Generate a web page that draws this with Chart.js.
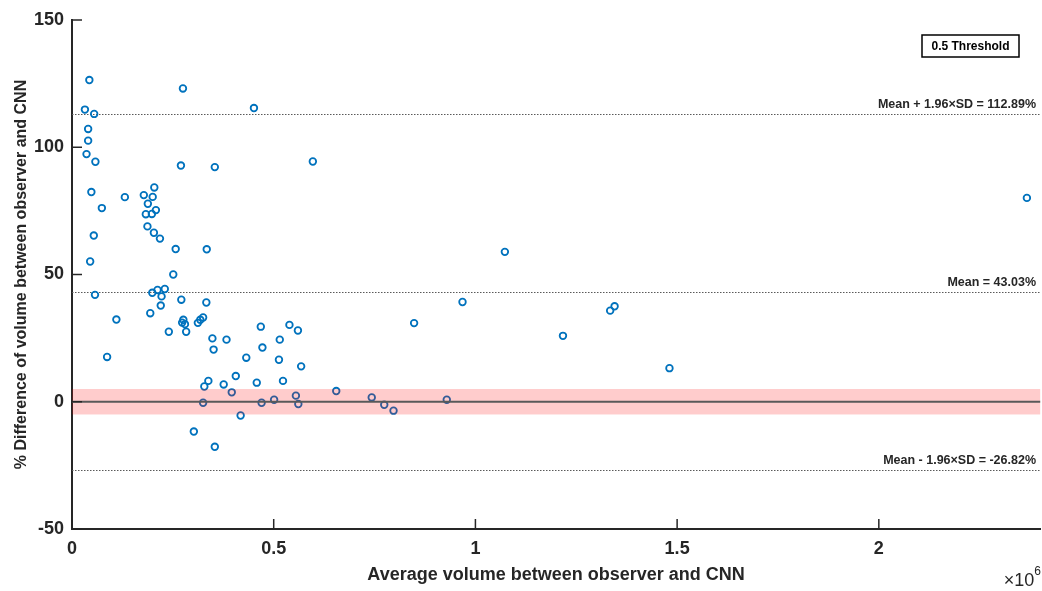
<!DOCTYPE html>
<html>
<head>
<meta charset="utf-8">
<script src="https://cdn.jsdelivr.net/npm/chart.js@4/dist/chart.umd.min.js"></script>
<style>
  html, body { margin: 0; padding: 0; background: #fff; overflow: hidden; }
  #wrap { width: 1046px; height: 591px; position: relative; }
</style>
</head>
<body>
<div id="wrap"><canvas id="baChart"></canvas></div>
<script>
// Bland-Altman style plot: % difference vs average volume (x in units of 1e6)

const avgVolume = [
  0.043, 0.032, 0.055, 0.040, 0.040, 0.036, 0.058, 0.275, 0.451, 0.270, 0.354,
  0.597, 2.367, 0.048, 0.074, 0.131, 0.178, 0.204, 0.200, 0.188, 0.183, 0.198,
  0.208, 0.187, 0.203, 0.054, 0.218, 0.257, 0.334, 0.045, 0.251, 0.057, 0.199,
  0.212, 0.230, 0.222, 0.220, 0.271, 0.333, 0.194, 0.110, 0.276, 0.273, 0.280,
  0.283, 0.312, 0.318, 0.325, 0.240, 0.348, 0.383, 0.351, 0.087, 0.468, 0.539,
  0.560, 0.515, 0.472, 0.432, 0.513, 0.568, 0.406, 0.338, 0.328, 0.376, 0.458,
  0.523, 0.396, 0.555, 0.655, 0.325, 0.470, 0.501, 0.561, 0.418, 0.302, 0.354,
  1.073, 0.968, 0.848, 0.743, 0.774, 0.797, 0.929, 1.217, 1.334, 1.345, 1.481
];

const pctDiff = [
  126.4, 114.8, 113.1, 107.2, 102.6, 97.3, 94.3, 123.1, 115.4, 92.8, 92.2,
  94.4, 80.1, 82.4, 76.1, 80.4, 81.2, 84.2, 80.5, 77.8, 73.7, 73.8,
  75.3, 68.9, 66.4, 65.3, 64.1, 60.0, 59.9, 55.1, 50.0, 42.0, 42.8,
  43.9, 44.3, 41.4, 37.8, 40.1, 39.0, 34.8, 32.3, 32.2, 31.1, 30.5,
  27.5, 31.0, 32.2, 33.1, 27.5, 24.9, 24.4, 20.5, 17.6, 29.5, 30.2,
  28.0, 24.4, 21.3, 17.3, 16.5, 13.9, 10.1, 8.2, 6.0, 6.8, 7.5,
  8.2, 3.7, 2.4, 4.2, -0.4, -0.4, 0.8, -0.9, -5.4, -11.7, -17.7,
  58.9, 39.2, 30.9, 1.7, -1.2, -3.5, 0.8, 25.9, 35.8, 37.5, 13.2
];

const limitValues = [112.89, 43.03, -26.82];
const limitLabels = ['Mean + 1.96\u00D7SD = 112.89%', 'Mean = 43.03%', 'Mean - 1.96\u00D7SD = -26.82%'];
const thresholdHalfWidth = 5;   // +/- band around zero
const thresholdLabel = '0.5 Threshold';

const xTicks = [0, 0.5, 1, 1.5, 2];
const yTicks = [-50, 0, 50, 100, 150];

const INK = '#262626';
const FONT = '"Liberation Sans", Arial, sans-serif';

// ---------------------------------------------------------------------------
// Overlay plugin: limit lines, threshold band, inward ticks, exponent label
// ---------------------------------------------------------------------------

const overlays = {
  id: 'overlays',
  beforeDatasetsDraw(chart) {
    const { ctx, chartArea: a, scales: { y } } = chart;
    ctx.save();
    // dotted limit lines
    ctx.strokeStyle = '#5a5a5a';
    ctx.lineWidth = 1.2;
    ctx.setLineDash([1.5, 1.5]);
    limitValues.forEach(function (v) {
      const py = Math.round(y.getPixelForValue(v)) + 0.5;
      ctx.beginPath();
      ctx.moveTo(a.left, py);
      ctx.lineTo(a.right, py);
      ctx.stroke();
    });
    ctx.setLineDash([]);
    // labels
    ctx.fillStyle = INK;
    ctx.font = 'bold 12.5px ' + FONT;
    ctx.textAlign = 'right';
    ctx.textBaseline = 'alphabetic';
    limitValues.forEach(function (v, i) {
      const py = y.getPixelForValue(v);
      ctx.fillText(limitLabels[i], 1036, py - 6);
    });
    ctx.restore();
  },
  afterDatasetsDraw(chart) {
    const { ctx, chartArea: a, scales: { x, y } } = chart;
    ctx.save();
    // threshold band
    const top = y.getPixelForValue(thresholdHalfWidth);
    const bot = y.getPixelForValue(-thresholdHalfWidth);
    ctx.fillStyle = 'rgba(255, 0, 0, 0.2)';
    ctx.fillRect(a.left, top, a.right - a.left, bot - top);
    // zero line
    ctx.strokeStyle = '#595959';
    ctx.lineWidth = 2;
    const y0 = y.getPixelForValue(0);
    ctx.beginPath();
    ctx.moveTo(a.left, y0);
    ctx.lineTo(a.right, y0);
    ctx.stroke();

    // inward tick marks
    ctx.strokeStyle = INK;
    ctx.lineWidth = 1.5;
    const tl = 10;
    y.ticks.forEach(function (t) {
      const py = y.getPixelForValue(t.value);
      ctx.beginPath();
      ctx.moveTo(a.left, py);
      ctx.lineTo(a.left + tl, py);
      ctx.stroke();
    });
    x.ticks.forEach(function (t) {
      const px = x.getPixelForValue(t.value);
      ctx.beginPath();
      ctx.moveTo(px, a.bottom);
      ctx.lineTo(px, a.bottom - tl);
      ctx.stroke();
    });

    // legend box
    ctx.font = 'bold 12px ' + FONT;
    const bw = 97, bh = 22, bx = 922, by = 35;
    ctx.fillStyle = '#fff';
    ctx.fillRect(bx, by, bw, bh);
    ctx.strokeStyle = '#000';
    ctx.lineWidth = 1.5;
    ctx.strokeRect(bx, by, bw, bh);
    ctx.fillStyle = '#000';
    ctx.textAlign = 'center';
    ctx.textBaseline = 'middle';
    ctx.fillText(thresholdLabel, bx + bw / 2, by + bh / 2 + 1);

    // x10^6 exponent label
    ctx.fillStyle = INK;
    ctx.textAlign = 'right';
    ctx.textBaseline = 'alphabetic';
    ctx.font = '12px ' + FONT;
    const supW = ctx.measureText('6').width;
    ctx.fillText('6', 1041, 575);
    ctx.font = '18px ' + FONT;
    ctx.fillText('\u00D710', 1041 - supW, 586);
    ctx.restore();
  }
};

// ---------------------------------------------------------------------------
// Chart
// ---------------------------------------------------------------------------

const points = avgVolume.map(function (v, i) { return { x: v, y: pctDiff[i] }; });

new Chart(document.getElementById('baChart').getContext('2d'), {
  type: 'scatter',
  data: {
    datasets: [{
      label: 'Volume difference',
      data: points,
      pointStyle: 'circle',
      pointRadius: 3.3,
      pointBorderWidth: 1.8,
      borderColor: '#0072BD',
      backgroundColor: 'rgba(255,255,255,0)'
    }]
  },
  options: {
    responsive: true,
    maintainAspectRatio: false,
    animation: false,
    layout: { padding: { top: 20, right: 0, left: 0, bottom: 0 } },
    plugins: { legend: { display: false }, tooltip: { enabled: false } },
    scales: {
      x: {
        type: 'linear',
        min: 0,
        max: 2.4,
        afterFit: function (s) { s.height = 62; },
        afterBuildTicks: function (s) { s.ticks = xTicks.map(function (v) { return { value: v }; }); },
        grid: { display: false, drawTicks: false },
        border: { display: true, color: INK, width: 2 },
        ticks: {
          padding: 9,
          color: INK,
          font: { family: FONT, size: 18, weight: 'bold' },
          callback: function (v) { return String(v); }
        },
        title: {
          display: true,
          text: 'Average volume between observer and CNN',
          color: INK,
          font: { family: FONT, size: 18, weight: 'bold' },
          padding: { top: 0, bottom: 5 }
        }
      },
      y: {
        type: 'linear',
        min: -50,
        max: 150,
        afterFit: function (s) { s.width = 72; },
        afterBuildTicks: function (s) { s.ticks = yTicks.map(function (v) { return { value: v }; }); },
        grid: { display: false, drawTicks: false },
        border: { display: true, color: INK, width: 2 },
        ticks: {
          padding: 8,
          color: INK,
          font: { family: FONT, size: 18, weight: 'bold' },
          callback: function (v) { return String(v); }
        },
        title: {
          display: true,
          text: '% Difference of volume between observer and CNN',
          color: INK,
          font: { family: FONT, size: 16, weight: 'bold' },
          padding: { top: 12, bottom: 0 }
        }
      }
    }
  },
  plugins: [overlays]
});
</script>
</body>
</html>
